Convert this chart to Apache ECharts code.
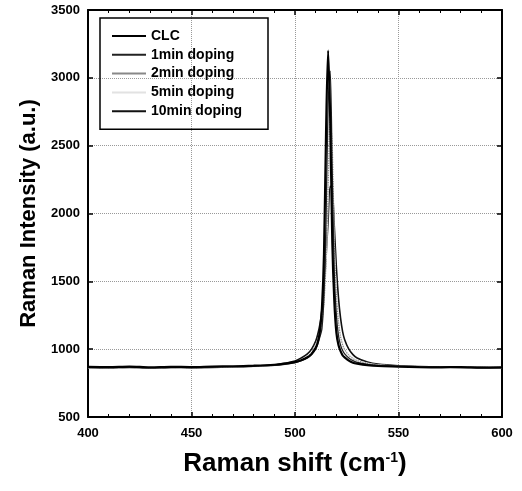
<!DOCTYPE html>
<html><head><meta charset="utf-8">
<script src="https://cdn.jsdelivr.net/npm/echarts@6/dist/echarts.min.js"></script>
<style>html,body{margin:0;padding:0;background:#fff}#c{width:522px;height:491px}</style>
</head><body><div id="c"></div>
<script>
const shift = [400,410,420,430,440,450,460,470,480,490,495,500,503,506,508,510,511,512,513,514,515,516,517,518,519,520,521,522,523,524,526,528,530,535,540,550,560,570,580,590,600];
const clc   = [870,868,872,866,870,868,872,874,878,885,893,905,918,940,965,1010,1050,1130,1300,1700,2600,3200,2700,1800,1350,1120,1030,985,955,940,915,900,893,882,876,872,868,866,868,864,866];
const min1  = [866,864,868,862,866,865,868,870,874,880,888,900,915,935,960,1000,1040,1090,1150,1400,1950,2800,3050,2300,1550,1250,1100,1030,990,965,935,915,903,888,880,874,870,868,866,865,864];
const min2  = [868,866,870,864,868,866,870,872,876,884,892,905,922,945,975,1025,1065,1120,1200,1350,1650,2200,2700,2500,1800,1400,1200,1090,1030,995,955,930,915,895,885,877,872,869,868,866,866];
const min5  = [862,860,864,858,862,860,864,866,870,878,886,898,914,938,968,1015,1055,1110,1190,1330,1600,2050,2450,2350,1800,1420,1220,1100,1040,1000,960,935,918,898,886,876,870,866,864,862,862];
const min10 = [864,862,866,860,864,862,866,868,874,884,896,912,935,965,1000,1060,1110,1180,1290,1450,1680,1950,2200,2180,1900,1600,1380,1230,1130,1070,1000,960,935,905,890,878,872,868,866,864,864];
const seriesNames = ['CLC','1min doping','2min doping','5min doping','10min doping'];
const xTicks = [400,450,500,550,600];
const yTicks = [500,1000,1500,2000,2500,3000,3500];

const pair = ys => shift.map((x,i)=>[x,ys[i]]);
const styles = [
  {color:'#000', width:2.2, type:'solid'},
  {color:'#222', width:1.3, type:'solid'},
  {color:'#888', width:1.2, type:'dotted'},
  {color:'#e2e2e2', width:1.0, type:'solid'},
  {color:'#111', width:1.6, type:'solid'}
];
const datas = [clc,min1,min2,min5,min10];
const fontFam = 'Arial, "Liberation Sans", sans-serif';
const chart = echarts.init(document.getElementById('c'));
const xCommon = {type:'value', min:400, max:600, interval:50,
  axisLine:{show:true, onZero:false, lineStyle:{color:'#000', width:2}},
  axisTick:{show:true, inside:true, length:5, lineStyle:{color:'#000', width:1.5}},
  minorTick:{show:true, splitNumber:5, length:3, lineStyle:{color:'#000'}}};
const yCommon = {type:'value', min:500, max:3500, interval:500,
  axisLine:{show:true, onZero:false, lineStyle:{color:'#000', width:2}},
  axisTick:{show:true, inside:true, length:5, lineStyle:{color:'#000', width:1.5}}};
chart.setOption({
  animation:false,
  backgroundColor:'#fff',
  grid:{left:88, right:20, top:10, bottom:74, containLabel:false},
  legend:{
    orient:'vertical', left:100, top:18,
    data:seriesNames.map((n,i)=>({name:n, icon:'rect', itemStyle:{color:styles[i].color}})),
    borderColor:'#000', borderWidth:1.5,
    padding:[11,26,11,12],
    itemWidth:34, itemHeight:2, itemGap:4.8,
    textStyle:{fontFamily:fontFam, fontWeight:'bold', fontSize:14, lineHeight:14, color:'#000'}
  },
  xAxis:[
    Object.assign({}, xCommon, {position:'bottom',
      axisLabel:{margin:10, fontFamily:fontFam, fontWeight:'bold', fontSize:13, color:'#000', formatter:v=>xTicks.includes(v)?String(v):''},
      splitLine:{show:true, lineStyle:{color:'#999', type:'dotted', width:1}},
      name:'{a|Raman shift (cm}{s|-1}{a|)}', nameLocation:'middle', nameGap:34,
      nameTextStyle:{rich:{a:{fontFamily:fontFam, fontWeight:'bold', fontSize:26, color:'#000'},
                           s:{fontFamily:fontFam, fontWeight:'bold', fontSize:14, color:'#000', verticalAlign:'top', padding:[0,0,12,0]}}}}),
    Object.assign({}, xCommon, {position:'top', axisLabel:{show:false}, splitLine:{show:false}})
  ],
  yAxis:[
    Object.assign({}, yCommon, {position:'left',
      axisLabel:{margin:8, fontFamily:fontFam, fontWeight:'bold', fontSize:13, color:'#000', formatter:v=>yTicks.includes(v)?String(v):''},
      splitLine:{show:true, lineStyle:{color:'#999', type:'dotted', width:1}},
      name:'Raman Intensity (a.u.)', nameLocation:'middle', nameGap:48,
      nameTextStyle:{fontFamily:fontFam, fontWeight:'bold', fontSize:22, color:'#000'}}),
    Object.assign({}, yCommon, {position:'right', axisLabel:{show:false}, splitLine:{show:false}})
  ],
  series: seriesNames.map((n,i)=>({
    name:n, type:'line', data:pair(datas[i]), symbol:'none', smooth:0.3,
    lineStyle:styles[i], itemStyle:{color:styles[i].color}, z: 10-i
  }))
});
</script></body></html>
